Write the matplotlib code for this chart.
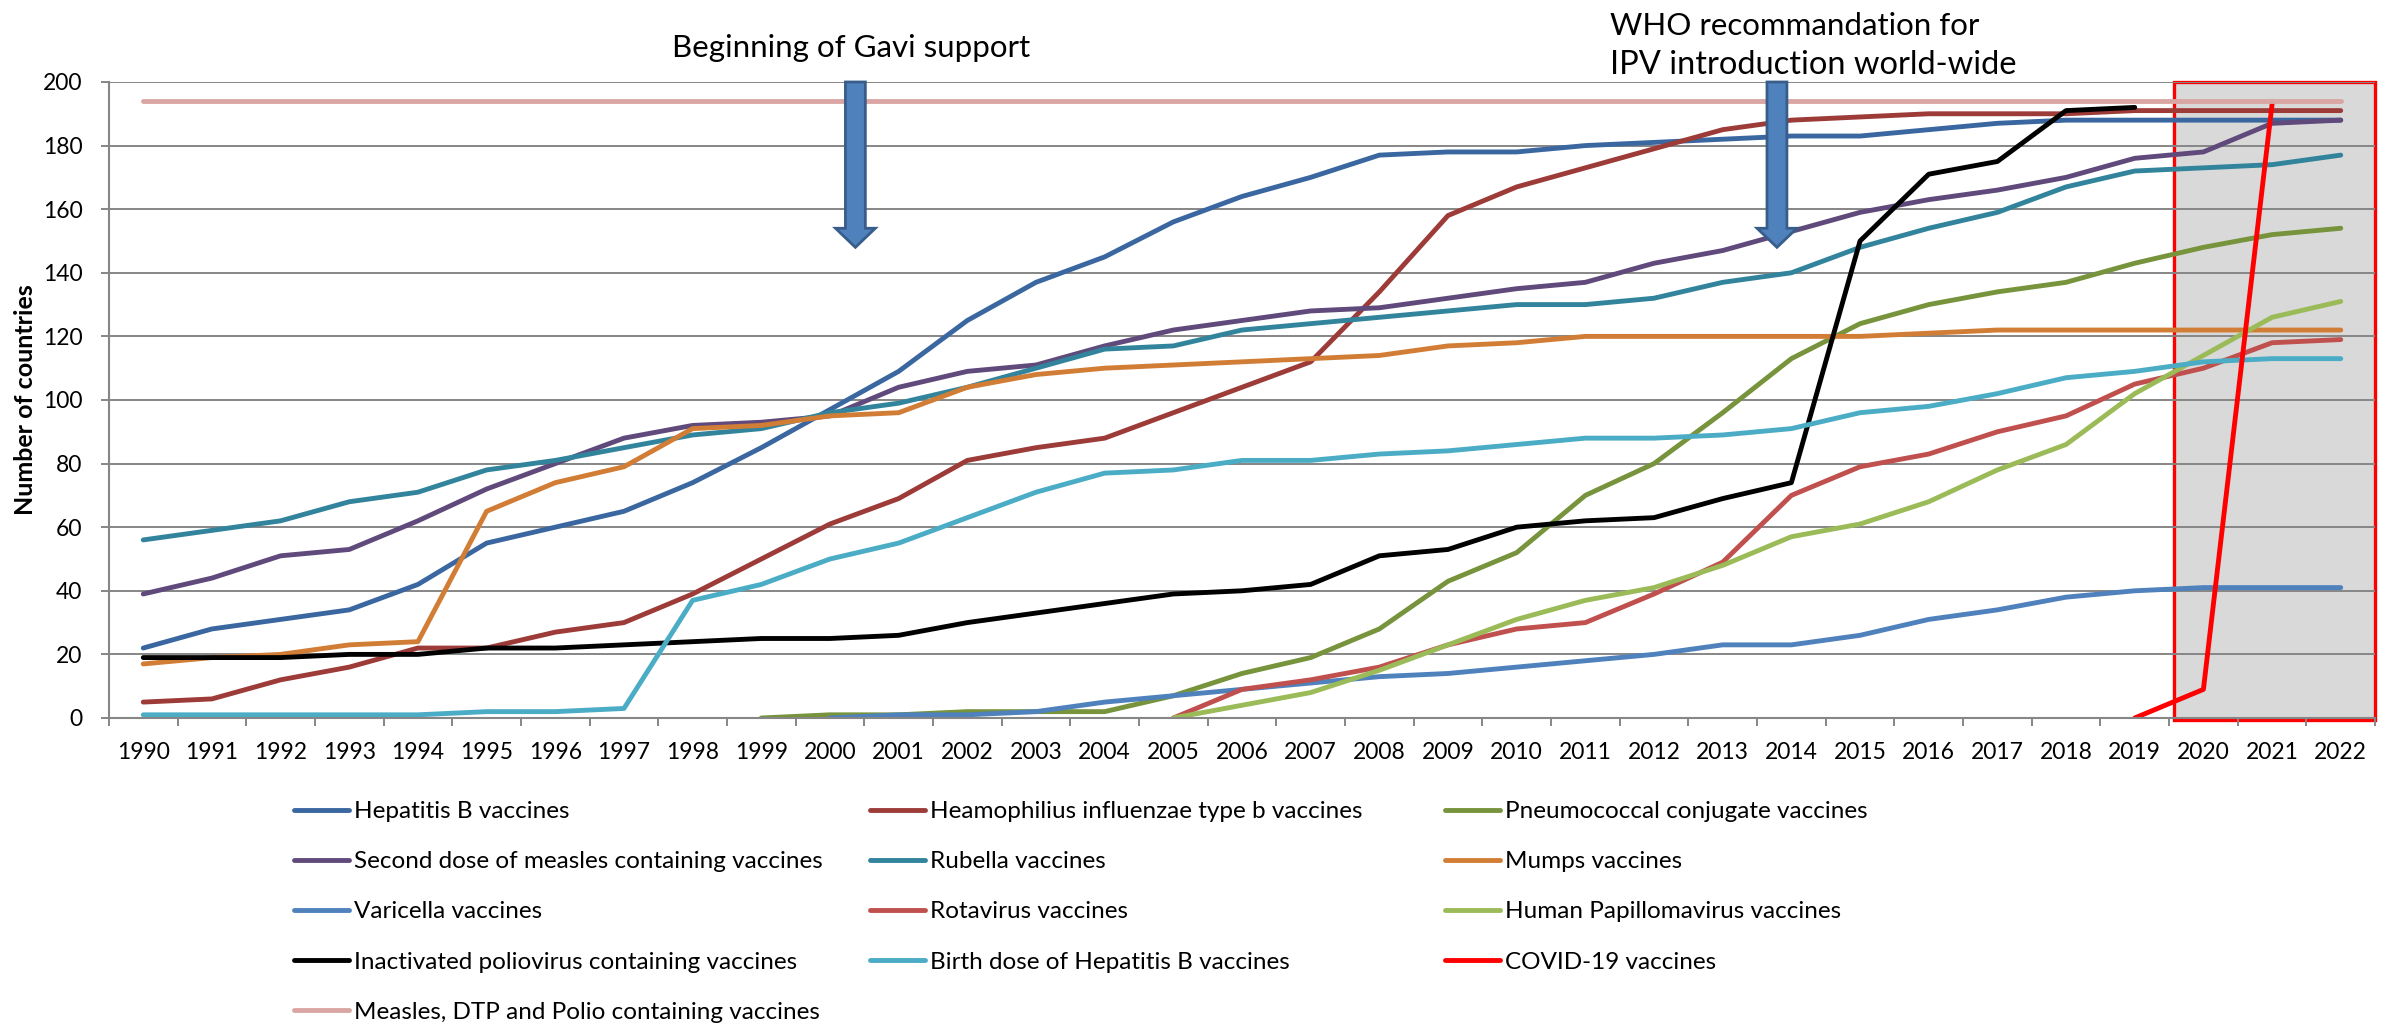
import numpy as np
import matplotlib
matplotlib.use("Agg")
import matplotlib.pyplot as plt
from matplotlib.patches import Rectangle, FancyArrow

plt.rcParams['font.family'] = ['Lato', 'DejaVu Sans']

nan = np.nan
years = list(range(1990, 2023))

hepb = [22, 28, 31, 34, 42, 55, 60, 65, 74, 85, 97, 109, 125, 137, 145, 156, 164, 170, 177, 178,
        178, 180, 181, 182, 183, 183, 185, 187, 188, 188, 188, 188, 188]
hib = [5, 6, 12, 16, 22, 22, 27, 30, 39, 50, 61, 69, 81, 85, 88, 96, 104, 112, 134, 158,
       167, 173, 179, 185, 188, 189, 190, 190, 190, 191, 191, 191, 191]
pcv = [nan] * 9 + [0, 1, 1, 2, 2, 2, 7, 14, 19, 28, 43,
                   52, 70, 80, 96, 113, 124, 130, 134, 137, 143, 148, 152, 154]
mcv2 = [39, 44, 51, 53, 62, 72, 80, 88, 92, 93, 95, 104, 109, 111, 117, 122, 125, 128, 129, 132,
        135, 137, 143, 147, 153, 159, 163, 166, 170, 176, 178, 187, 188]
rubella = [56, 59, 62, 68, 71, 78, 81, 85, 89, 91, 96, 99, 104, 110, 116, 117, 122, 124, 126, 128,
           130, 130, 132, 137, 140, 148, 154, 159, 167, 172, 173, 174, 177]
mumps = [17, 19, 20, 23, 24, 65, 74, 79, 91, 92, 95, 96, 104, 108, 110, 111, 112, 113, 114, 117,
         118, 120, 120, 120, 120, 120, 121, 122, 122, 122, 122, 122, 122]
varicella = [nan] * 10 + [0, 1, 1, 2, 5, 7, 9, 11, 13, 14,
                          16, 18, 20, 23, 23, 26, 31, 34, 38, 40, 41, 41, 41]
rota = [nan] * 15 + [0, 9, 12, 16, 23, 28, 30, 39, 49, 70, 79, 83, 90, 95, 105, 110, 118, 119]
hpv = [nan] * 15 + [0, 4, 8, 15, 23, 31, 37, 41, 48, 57, 61, 68, 78, 86, 102, 114, 126, 131]
ipv = [19, 19, 19, 20, 20, 22, 22, 23, 24, 25, 25, 26, 30, 33, 36, 39, 40, 42, 51, 53,
       60, 62, 63, 69, 74, 150, 171, 175, 191, 192, nan, nan, nan]
hepb_bd = [1, 1, 1, 1, 1, 2, 2, 3, 37, 42, 50, 55, 63, 71, 77, 78, 81, 81, 83, 84,
           86, 88, 88, 89, 91, 96, 98, 102, 107, 109, 112, 113, 113]
covid = [nan] * 29 + [0, 9, 193, nan]
mdp = [194] * 33

series = [
    ("Hepatitis B vaccines", hepb, "#3A67A0"),
    ("Heamophilius influenzae type b vaccines", hib, "#9C3B38"),
    ("Pneumococcal conjugate vaccines", pcv, "#77933C"),
    ("Second dose of measles containing vaccines", mcv2, "#604A7B"),
    ("Rubella vaccines", rubella, "#31849B"),
    ("Mumps vaccines", mumps, "#D27D35"),
    ("Varicella vaccines", varicella, "#4F81BD"),
    ("Rotavirus vaccines", rota, "#C0504D"),
    ("Human Papillomavirus vaccines", hpv, "#9BBB59"),
    ("Inactivated poliovirus containing vaccines", ipv, "#000000"),
    ("Birth dose of Hepatitis B vaccines", hepb_bd, "#4BACC6"),
    ("COVID-19 vaccines", covid, "#FF0000"),
    ("Measles, DTP and Polio containing vaccines", mdp, "#D9A6A4"),
]

GRID = "#868686"
x = np.arange(len(years))

fig = plt.figure(figsize=(23.94, 10.26), dpi=100)
ax = fig.add_axes([0.0455, 0.3002, 0.9466, 0.6199])

# shaded box around the recent years
ax.add_patch(Rectangle((29.57, -0.7), 32.5 - 29.57, 200.7, facecolor="#D9D9D9",
                       edgecolor="#FF0000", lw=2.4, zorder=1.2, clip_on=False))

handles = []
for lab, vals, col in series:
    h, = ax.plot(x, vals, color=col, lw=3.5, solid_capstyle="round", label=lab, zorder=2)
    handles.append(h)

ax.set_xlim(-0.5, len(years) - 0.5)
ax.set_ylim(0, 200)
ax.set_yticks(range(0, 201, 20))
ax.yaxis.grid(True, color=GRID, lw=1.4)
ax.set_xticks(np.arange(-0.5, len(years), 1.0))
ax.set_xticklabels([])
ax.set_xticks(x, minor=True)
ax.set_xticklabels([str(y) for y in years], minor=True)
ax.tick_params(axis="x", which="major", length=6, width=1.4, color=GRID, direction="out")
ax.tick_params(axis="x", which="minor", length=0, pad=17, labelsize=16.5)
ax.tick_params(axis="y", length=6, width=1.4, color=GRID, pad=13, labelsize=16.5)
for s in ["top", "right"]:
    ax.spines[s].set_visible(False)
for s in ["left", "bottom"]:
    ax.spines[s].set_color(GRID)
    ax.spines[s].set_linewidth(1.5)
ax.set_ylabel("Number of countries", fontsize=18, fontweight="bold")
ax.yaxis.set_label_coords(-0.0318, 0.5)

# block arrows and notes
for ax_x in [10.37, 23.79]:
    ax.add_patch(FancyArrow(ax_x, 200, 0, -52, width=0.29, head_width=0.58, head_length=6,
                            length_includes_head=True, facecolor="#4F81BD", edgecolor="#385D8A",
                            lw=2, zorder=5, clip_on=False))
fig.text(851 / 2394, 1 - 57 / 1026, "Beginning of Gavi support", ha="center", va="baseline",
         fontsize=22.5)
fig.text(1610 / 2394, 1 - 35 / 1026, "WHO recommandation for", ha="left", va="baseline",
         fontsize=22.5)
fig.text(1610 / 2394, 1 - 74 / 1026, "IPV introduction world-wide", ha="left", va="baseline",
         fontsize=23.5)

# legend: 3 fixed columns, filled row by row
col_x = [294, 870, 1445]
for c in range(3):
    hs = handles[c::3]
    fig.legend(hs, [h.get_label() for h in hs], loc="upper left",
               bbox_to_anchor=(col_x[c] / 2394, 1 - 801 / 1026), frameon=False,
               fontsize=17.5, handlelength=2.25, handletextpad=0.2, labelspacing=1.2,
               borderpad=0, borderaxespad=0)

fig.savefig("out.png", dpi=100)
